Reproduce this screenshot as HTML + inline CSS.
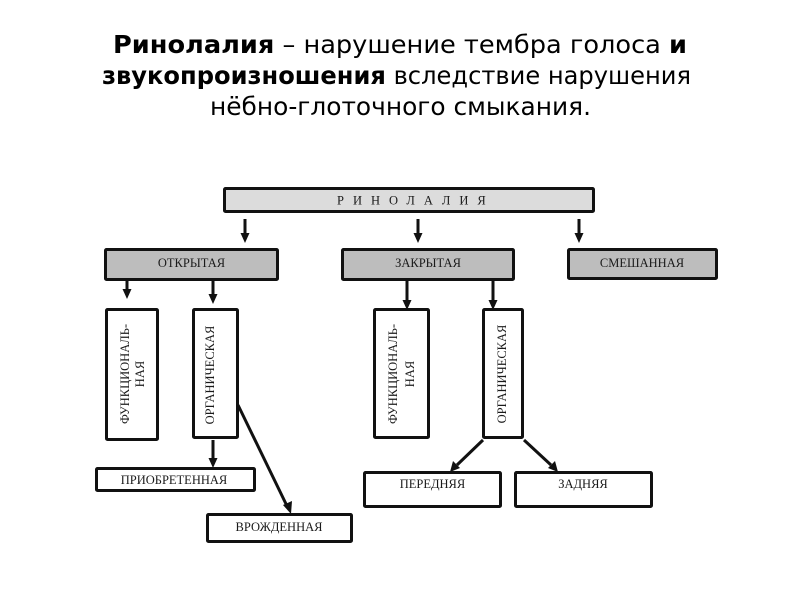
<!DOCTYPE html>
<html>
<head>
<meta charset="utf-8">
<style>
html,body{margin:0;padding:0;background:#fff;}
svg{display:block;}
.t{font-family:"DejaVu Sans","Liberation Sans",sans-serif;font-size:25px;fill:#000;}
.d{font-family:"Liberation Serif","DejaVu Serif",serif;font-size:12.5px;fill:#1a1a1a;}
</style>
</head>
<body>
<svg width="800" height="600" viewBox="0 0 800 600" xmlns="http://www.w3.org/2000/svg">
<rect x="0" y="0" width="800" height="600" fill="#fff"/>
<!-- Title -->
<text class="t" x="113" y="53" textLength="574" lengthAdjust="spacingAndGlyphs"><tspan font-weight="bold">Ринолалия</tspan> – нарушение тембра голоса <tspan font-weight="bold">и</tspan></text>
<text class="t" x="102" y="84" textLength="589" lengthAdjust="spacingAndGlyphs"><tspan font-weight="bold">звукопроизношения</tspan> вследствие нарушения</text>
<text class="t" x="210" y="115" textLength="381" lengthAdjust="spacingAndGlyphs">нёбно-глоточного смыкания.</text>

<g stroke="#111" stroke-width="3" stroke-linejoin="round">
<rect x="224.5" y="188.5" width="369" height="23" fill="#dcdcdc" rx="1"/>
<rect x="105.5" y="249.5" width="172" height="30" fill="#bdbdbd" rx="1"/>
<rect x="342.5" y="249.5" width="171" height="30" fill="#bdbdbd" rx="1"/>
<rect x="568.5" y="249.5" width="148" height="29" fill="#bdbdbd" rx="1"/>
<rect x="106.5" y="309.5" width="51" height="130" fill="#fff" rx="1"/>
<rect x="193.5" y="309.5" width="44" height="128" fill="#fff" rx="1"/>
<rect x="374.5" y="309.5" width="54" height="128" fill="#fff" rx="1"/>
<rect x="483.5" y="309.5" width="39" height="128" fill="#fff" rx="1"/>
<rect x="96.5" y="468.5" width="158" height="22" fill="#fff" rx="1"/>
<rect x="207.5" y="514.5" width="144" height="27" fill="#fff" rx="1"/>
<rect x="364.5" y="472.5" width="136" height="34" fill="#fff" rx="1"/>
<rect x="515.5" y="472.5" width="136" height="34" fill="#fff" rx="1"/>

<line x1="245" y1="219" x2="245" y2="236"/>
<line x1="418" y1="219" x2="418" y2="236"/>
<line x1="579" y1="219" x2="579" y2="236"/>
<line x1="127" y1="281" x2="127" y2="292"/>
<line x1="213" y1="281" x2="213" y2="297"/>
<line x1="407" y1="281" x2="407" y2="302"/>
<line x1="493" y1="281" x2="493" y2="302"/>
<line x1="213" y1="440" x2="213" y2="460"/>
<line x1="238" y1="405" x2="287" y2="506"/>
<line x1="483" y1="440" x2="457" y2="465"/>
<line x1="524" y1="440" x2="551" y2="465"/>
</g>

<g fill="#111">
<polygon points="240.5,233 249.5,233 245,243"/>
<polygon points="413.5,233 422.5,233 418,243"/>
<polygon points="574.5,233 583.5,233 579,243"/>
<polygon points="122.5,289 131.5,289 127,299"/>
<polygon points="208.5,294 217.5,294 213,304"/>
<polygon points="402.5,300 411.5,300 407,310"/>
<polygon points="488.5,300 497.5,300 493,310"/>
<polygon points="208.5,458 217.5,458 213,468"/>
<polygon points="283,505 292,501 291,514"/>
<polygon points="453,461 460,468 450,472"/>
<polygon points="548,468 555,461 558,472"/>
</g>

<text class="d" x="337" y="204.5" font-size="10.5" letter-spacing="9">РИНОЛАЛИЯ</text>
<text class="d" x="191.5" y="267" text-anchor="middle">ОТКРЫТАЯ</text>
<text class="d" x="428" y="267" text-anchor="middle">ЗАКРЫТАЯ</text>
<text class="d" x="642" y="267" text-anchor="middle">СМЕШАННАЯ</text>

<text class="d" transform="translate(129,374) rotate(-90)" text-anchor="middle">ФУНКЦИОНАЛЬ-</text>
<text class="d" transform="translate(144,374) rotate(-90)" text-anchor="middle">НАЯ</text>
<text class="d" transform="translate(214,375) rotate(-90)" text-anchor="middle">ОРГАНИЧЕСКАЯ</text>
<text class="d" transform="translate(397,374) rotate(-90)" text-anchor="middle">ФУНКЦИОНАЛЬ-</text>
<text class="d" transform="translate(414,374) rotate(-90)" text-anchor="middle">НАЯ</text>
<text class="d" transform="translate(506,374) rotate(-90)" text-anchor="middle">ОРГАНИЧЕСКАЯ</text>

<text class="d" x="174" y="484" text-anchor="middle">ПРИОБРЕТЕННАЯ</text>
<text class="d" x="279" y="531" text-anchor="middle">ВРОЖДЕННАЯ</text>
<text class="d" x="432.5" y="488" text-anchor="middle">ПЕРЕДНЯЯ</text>
<text class="d" x="583" y="488" text-anchor="middle">ЗАДНЯЯ</text>
</svg>
</body>
</html>
